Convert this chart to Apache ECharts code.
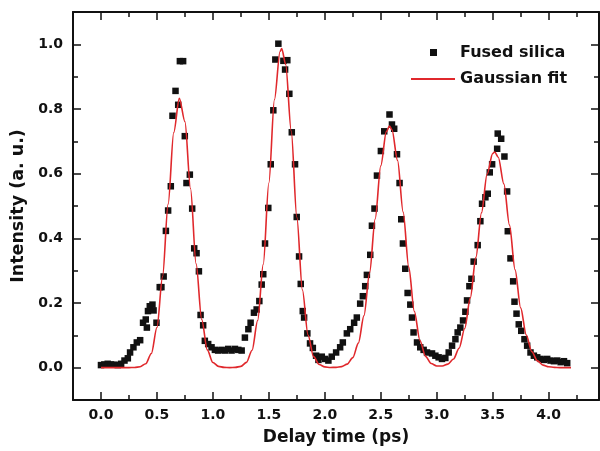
<!DOCTYPE html>
<html>
<head>
<meta charset="utf-8">
<title>Fused silica</title>
<script src="https://cdn.jsdelivr.net/npm/echarts@6/dist/echarts.min.js"></script>
<style>
  html, body { margin: 0; padding: 0; background: #fff; }
  #main { width: 600px; height: 451px; }
</style>
</head>
<body>
<div id="main"></div>
<script>
// measured points (black squares), x = delay (ps), y = intensity
var silicaX = [0.00,0.03,0.06,0.09,0.12,0.15,0.18,0.21,0.24,0.26,0.29,0.32,0.35,0.376,0.40,0.41,0.42,0.436,0.46,0.47,0.496,0.525,0.54,0.56,0.58,0.60,0.624,0.639,0.666,0.69,0.705,0.734,0.749,0.764,0.794,0.815,0.833,0.854,0.875,0.89,0.913,0.928,
  0.958,0.988,1.018,1.047,1.078,1.107,1.137,1.167,1.197,1.227,
  1.257,1.286,1.317,1.337,1.367,1.391,1.415,1.436,1.45,1.466,1.495,1.517,1.54,1.558,1.585,1.63,1.645,1.665,1.683,1.705,1.734,1.749,1.77,1.785,1.803,1.815,1.844,1.868,1.893,1.922,1.943,1.973,2.003,2.032,2.062,2.101,2.137,2.161,2.197,2.227,2.262,2.286,2.316,2.34,2.361,2.376,2.406,2.421,2.444,2.466,2.501,2.531,2.578,2.6,2.62,2.645,2.668,2.683,2.698,2.719,2.74,
  2.764,2.779,2.793,2.824,2.853,2.883,2.913,2.958,2.988,3.017,3.047,3.077,3.107,3.137,3.167,3.187,3.211,3.235,3.256,3.271,3.292,3.31,3.33,3.366,3.39,3.405,3.435,3.456,3.474,3.495,3.54,3.545,3.576,3.605,3.629,3.635,3.659,3.683,3.695,3.713,3.733,3.755,3.784,3.808,3.838,3.868,3.898,3.928,3.958,3.987,4.017,4.047,4.077,4.107,4.137,4.166];
var silicaY = [0.008,0.010,0.012,0.010,0.009,0.008,0.012,0.022,0.029,0.047,0.063,0.078,0.085,0.139,0.149,0.124,0.175,0.19,0.195,0.177,0.139,0.249,0.249,0.282,0.423,0.486,0.561,0.779,0.856,0.813,0.948,0.948,0.716,0.571,0.597,0.492,0.369,0.354,0.298,0.163,0.131,0.083,
  0.073,0.063,0.055,0.053,0.055,0.053,0.058,0.053,0.058,0.055,
  0.053,0.093,0.119,0.139,0.17,0.18,0.206,0.257,0.289,0.384,0.494,0.629,0.796,0.953,1.002,0.949,0.922,0.951,0.847,0.728,0.629,0.466,0.344,0.259,0.175,0.155,0.106,0.075,0.061,0.037,0.024,0.034,0.027,0.022,0.034,0.047,0.063,0.078,0.106,0.119,0.139,0.155,0.198,0.221,0.252,0.287,0.349,0.439,0.492,0.594,0.67,0.731,0.783,0.752,0.739,0.66,0.571,0.459,0.384,0.306,0.231,
  0.195,0.155,0.109,0.078,0.063,0.055,0.047,0.044,0.037,0.032,0.027,0.03,0.047,0.068,0.088,0.109,0.124,0.146,0.173,0.208,0.252,0.275,0.328,0.379,0.453,0.507,0.527,0.538,0.604,0.629,0.677,0.724,0.708,0.653,0.545,0.422,0.338,0.267,0.204,0.167,0.134,0.114,0.088,0.068,0.047,0.037,0.032,0.027,0.024,0.027,0.022,0.02,0.022,0.017,0.02,0.014];

// red gaussian fit
var fitX = [0.00,0.10,0.20,0.25,0.30,0.35,0.40,0.45,0.50,0.55,0.60,0.65,0.70,0.75,0.80,0.85,0.90,0.95,1.00,1.05,1.10,1.15,
  1.20,1.25,1.30,1.35,1.40,1.45,1.50,1.55,1.60,1.615,1.65,1.70,1.75,1.80,1.85,1.90,1.95,2.00,2.05,
  2.10,2.15,2.20,2.25,2.30,2.35,2.40,2.45,2.50,2.55,2.578,2.60,2.65,2.70,2.75,2.80,2.85,2.90,2.95,3.00,
  3.05,3.10,3.15,3.20,3.25,3.30,3.35,3.40,3.45,3.50,3.518,3.55,3.60,3.65,3.70,3.75,3.80,3.85,3.90,3.95,4.00,4.05,4.10,4.20];
var fitY = [0,0,0,0.0001,0.0005,0.0027,0.0123,0.0437,0.124,0.281,0.506,0.727,0.833,0.761,0.554,0.321,0.149,0.055,0.016,0.004,0.001,0.0001,
  0.0008,0.004,0.0164,0.054,0.146,0.320,0.571,0.829,0.978,0.987,0.938,0.732,0.465,0.240,0.101,0.034,0.0096,0.0023,0.0006,
  0.0009,0.0033,0.011,0.031,0.076,0.161,0.293,0.460,0.624,0.730,0.747,0.736,0.641,0.481,0.311,0.174,0.084,0.035,0.013,0.005,
  0.005,0.011,0.027,0.060,0.121,0.216,0.341,0.479,0.598,0.662,0.667,0.651,0.568,0.441,0.303,0.185,0.101,0.049,0.021,0.008,0.003,0.001,0.0002,0];

var xTicks = [0, 0.5, 1.0, 1.5, 2.0, 2.5, 3.0, 3.5, 4.0];
var xMinor = [0.25, 0.75, 1.25, 1.75, 2.25, 2.75, 3.25, 3.75, 4.25];
var yTicks = [0, 0.2, 0.4, 0.6, 0.8, 1.0];
var yMinor = [0.1, 0.3, 0.5, 0.7, 0.9];

var silicaPts = silicaX.map(function (x, i) { return [x, silicaY[i]]; });
var fitPts = fitX.map(function (x, i) { return [x, fitY[i]]; });

var font = 'DejaVu Sans';
var ink = '#111';
var red = '#e0282c';

function axis(dim, pos, ticks, len, showLine, withLabel) {
  var a = {
    type: 'value',
    position: pos,
    min: dim === 'x' ? -0.25 : -0.1,
    max: dim === 'x' ? 4.45 : 1.1,
    splitLine: { show: false },
    axisLine: { show: showLine, onZero: false, lineStyle: { color: ink, width: 2 } },
    axisTick: { show: true, inside: true, length: len, customValues: ticks, lineStyle: { color: ink, width: 1.5 } },
    axisLabel: { show: false }
  };
  if (withLabel) {
    a.axisLabel = {
      show: true,
      customValues: ticks,
      margin: dim === 'x' ? 8 : 10,
      color: ink,
      fontFamily: font,
      fontWeight: 'bold',
      fontSize: 14,
      formatter: function (v) { return v.toFixed(1); }
    };
  }
  return a;
}

var xBottom = axis('x', 'bottom', xTicks, 8, true, true);
xBottom.name = 'Delay time (ps)';
xBottom.nameLocation = 'middle';
xBottom.nameGap = 29;
xBottom.nameTextStyle = { color: ink, fontFamily: font, fontWeight: 'bold', fontSize: 17 };

var yLeft = axis('y', 'left', yTicks, 8, true, true);
yLeft.name = 'Intensity (a. u.)';
yLeft.nameLocation = 'middle';
yLeft.nameGap = 43;
yLeft.nameTextStyle = { color: ink, fontFamily: font, fontWeight: 'bold', fontSize: 17.5 };

var chart = echarts.init(document.getElementById('main'));
chart.setOption({
  animation: false,
  backgroundColor: '#fff',
  grid: { left: 73, right: 1, top: 12, bottom: 48 },
  xAxis: [
    xBottom,
    axis('x', 'bottom', xMinor, 5, false, false),
    axis('x', 'top', xTicks, 8, true, false),
    axis('x', 'top', xMinor, 5, false, false)
  ],
  yAxis: [
    yLeft,
    axis('y', 'left', yMinor, 5, false, false),
    axis('y', 'right', yTicks, 8, true, false),
    axis('y', 'right', yMinor, 5, false, false)
  ],
  legend: [
    {
      data: ['Fused silica'],
      left: 430, top: 43.5, padding: 0,
      icon: 'rect', itemWidth: 7, itemHeight: 7,
      textStyle: { color: ink, fontFamily: font, fontWeight: 'bold', fontSize: 16, lineHeight: 18, padding: [0, 0, 0, 18] }
    },
    {
      data: ['Gaussian fit'],
      left: 411, top: 70, padding: 0,
      icon: 'rect', itemWidth: 44, itemHeight: 2,
      textStyle: { color: ink, fontFamily: font, fontWeight: 'bold', fontSize: 16, lineHeight: 18 }
    }
  ],
  series: [
    {
      name: 'Gaussian fit',
      type: 'line',
      data: fitPts,
      smooth: 0.3,
      smoothMonotone: 'x',
      symbol: 'none',
      lineStyle: { color: red, width: 1.6 },
      itemStyle: { color: red },
      z: 3
    },
    {
      name: 'Fused silica',
      type: 'scatter',
      data: silicaPts,
      symbol: 'rect',
      symbolSize: 6.5,
      itemStyle: { color: ink, opacity: 1 },
      z: 2
    }
  ]
});
</script>
</body>
</html>
